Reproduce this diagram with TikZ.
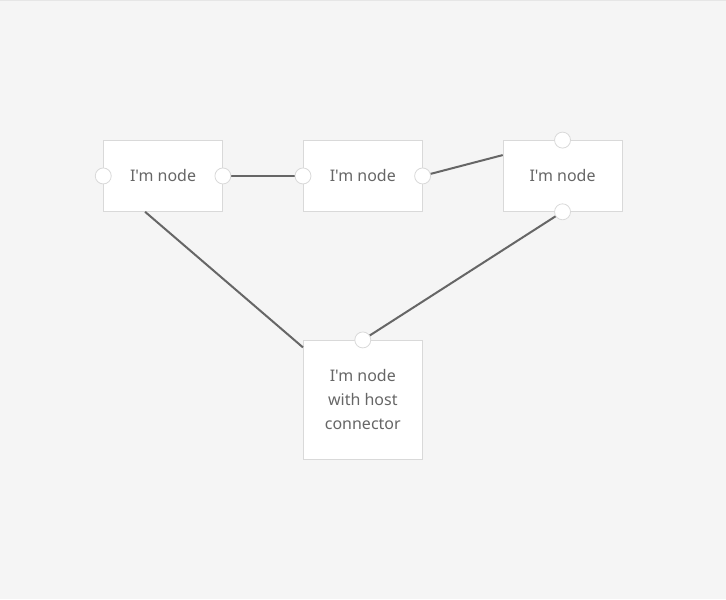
\documentclass[tikz,border=0pt]{standalone}
\usepackage{fontspec}
\setmainfont{Noto Sans}[Ligatures=TeXOff]
\usetikzlibrary{calc}
\definecolor{canvas}{HTML}{F5F5F5}
\definecolor{frameline}{HTML}{E6E6E6}
\definecolor{boxline}{HTML}{D9D9D9}
\definecolor{linkgray}{HTML}{666666}
\definecolor{labelgray}{HTML}{666666}
\begin{document}
\begin{tikzpicture}[x=1pt,y=-1pt,
  box/.style={draw=boxline, fill=white, line width=0.8pt, inner sep=0pt,
    minimum width=119pt, minimum height=71pt, align=center, text=labelgray,
    font=\fontsize{16}{24}\selectfont},
  port/.style={circle, draw=boxline, fill=white, line width=0.8pt,
    minimum size=16pt, inner sep=0pt},
  link/.style={draw=linkgray, line width=2pt}]
  % canvas
  \fill[canvas] (0,0) rectangle (726,600);
  \draw[frameline, line width=1pt] (0,0.5) -- (726,0.5);
  \useasboundingbox (0,0) rectangle (726,600);

  % boxes
  \node[box] (n1) at (162.8,176.2) {I'm node};
  \node[box] (n2) at (362.8,176.2) {I'm node};
  \node[box] (n3) at (562.8,176.2) {I'm node};
  \node[box, minimum height=119pt] (n4) at (362.8,400.3) {I'm node\\with host\\connector};

  % port centres
  \coordinate (p1w) at (n1.west);
  \coordinate (p1e) at (n1.east);
  \coordinate (p2w) at (n2.west);
  \coordinate (p2e) at (n2.east);
  \coordinate (p3n) at (n3.north);
  \coordinate (p3s) at (n3.south);
  \coordinate (p4n) at (n4.north);
  % host attachment points
  \coordinate (h1) at ($(n1.south)+(-18,0)$);
  \coordinate (h3) at ($(n3.north west)+(0,15)$);
  \coordinate (h4) at ($(n4.north west)+(0,7.5)$);

  % connectors
  \draw[link] (p1e) -- (p2w);
  \draw[link] (p2e) -- (h3);
  \draw[link] (h1) -- (h4);
  \draw[link] (p3s) -- (p4n);

  % ports
  \foreach \p in {p1w,p1e,p2w,p2e,p3n,p3s,p4n}
    \node[port] at (\p) {};
\end{tikzpicture}
\end{document}
